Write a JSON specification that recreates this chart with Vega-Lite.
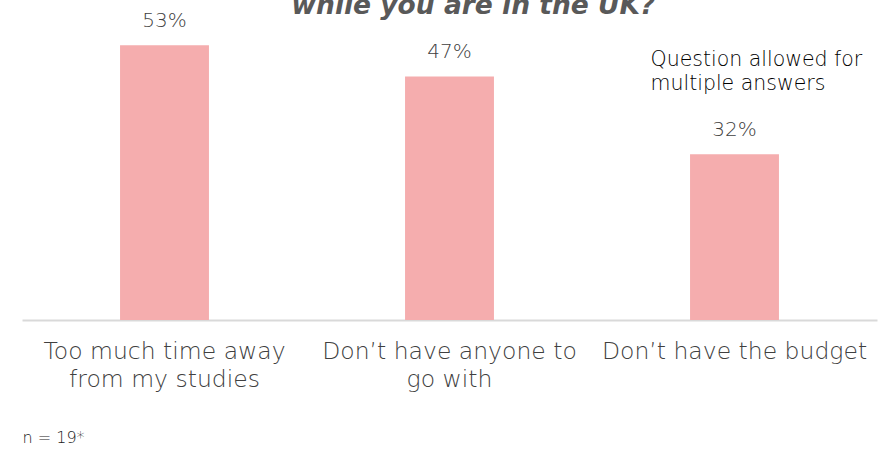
{
  "$schema": "https://vega.github.io/schema/vega-lite/v6.json",
  "autosize": {"type": "none"},
  "width": 855,
  "height": 311,
  "padding": {"left": 22, "top": 9, "right": 4, "bottom": 130},
  "background": "white",
  "config": {"view": {"stroke": null}},
  "title": {
    "text": "while you are in the UK?",
    "font": "DejaVu Sans",
    "fontSize": 26.5,
    "fontWeight": "bold",
    "fontStyle": "italic",
    "color": "#595959",
    "anchor": "middle",
    "baseline": "alphabetic",
    "offset": 0,
    "dx": 24,
    "dy": 31
  },
  "data": {
    "values": [
      {"reason": "Too much time away from my studies", "pct": 0.53},
      {"reason": "Don’t have anyone to go with", "pct": 0.47},
      {"reason": "Don’t have the budget", "pct": 0.32}
    ]
  },
  "encoding": {
    "x": {
      "field": "reason",
      "type": "nominal",
      "sort": null,
      "scale": {"paddingInner": 0.688, "paddingOuter": 0.344},
      "axis": {
        "title": "n = 19*",
        "titleFont": "DejaVu Sans",
        "titleFontSize": 16,
        "titleFontWeight": 200,
        "titleColor": "#1a1a1a",
        "titleAnchor": "start",
        "titleAlign": "left",
        "titleBaseline": "alphabetic",
        "titleX": 0,
        "titleY": 122,
        "labelAngle": 0,
        "labelFont": "DejaVu Sans",
        "labelFontSize": 23.5,
        "labelFontWeight": 200,
        "labelColor": "#404040",
        "labelPadding": 19,
        "labelLineHeight": 28,
        "labelLimit": 400,
        "labelExpr": "datum.value == 'Too much time away from my studies' ? ['Too much time away', 'from my studies'] : datum.value == 'Don’t have anyone to go with' ? ['Don’t have anyone to', 'go with'] : datum.value",
        "ticks": false,
        "domainColor": "#d9d9d9",
        "domainWidth": 2
      }
    },
    "y": {
      "field": "pct",
      "type": "quantitative",
      "scale": {"domain": [0, 0.6]},
      "axis": null
    }
  },
  "layer": [
    {"mark": {"type": "bar", "color": "#f5adae"}},
    {
      "mark": {
        "type": "text",
        "baseline": "bottom",
        "dy": -14,
        "font": "DejaVu Sans",
        "fontSize": 20,
        "fontWeight": 200,
        "color": "#404040"
      },
      "encoding": {"text": {"field": "pct", "type": "quantitative", "format": ".0%"}}
    },
    {
      "data": {"values": [{"reason": "Don’t have the budget", "pct": 0.49, "note": "Question allowed for\nmultiple answers"}]},
      "mark": {
        "type": "text",
        "align": "left",
        "baseline": "alphabetic",
        "dx": -84,
        "dy": 0,
        "lineBreak": "\n",
        "lineHeight": 24,
        "font": "DejaVu Sans",
        "fontSize": 20.5,
        "fontWeight": 200,
        "color": "#000000"
      },
      "encoding": {"text": {"field": "note"}}
    }
  ]
}
